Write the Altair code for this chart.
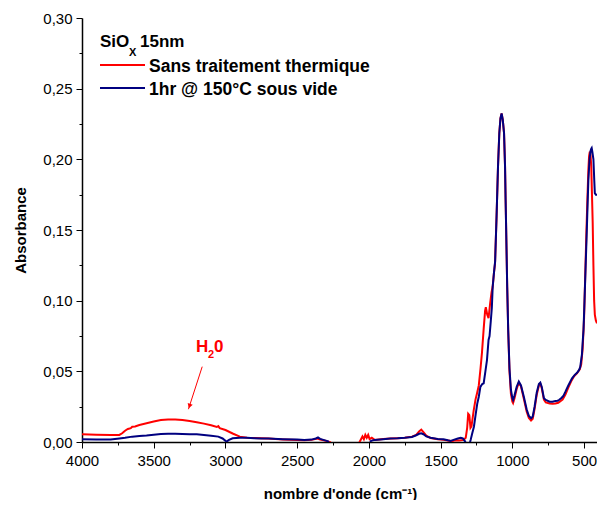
import altair as alt
import pandas as pd

# ---------------- data ----------------
series_names = ["Sans traitement thermique", "1hr @ 150°C sous vide"]
series_colors = ["#ff0000", "#000080"]

wn_red = [4000, 3900, 3800, 3740, 3720, 3700, 3680, 3660, 3650, 3630, 3600, 3550, 3500, 3450, 3400, 3350,
          3300, 3250, 3200, 3150, 3100, 3060, 3050, 3040, 3000, 2950, 2900, 2850, 2800, 2750,
          2700, 2600, 2500, 2450, 2400, 2360, 2340, 2300, 2270, 2250, 2200, 2100,
          2070, 2055, 2045, 2035, 2025, 2015, 2005, 1995, 1980, 1960, 1900, 1850,
          1800, 1750, 1700, 1670, 1650, 1635, 1620, 1600, 1570, 1520, 1480, 1450,
          1420, 1400, 1370, 1340, 1325, 1315, 1308, 1300, 1292, 1285, 1270, 1257,
          1245, 1234, 1222, 1212, 1200, 1190, 1185, 1175, 1166, 1155, 1145, 1137,
          1128, 1121, 1110, 1100, 1091, 1083, 1075, 1067, 1058, 1051, 1047, 1044,
          1036, 1029, 1020, 1010, 1000, 995, 985, 970, 955, 940, 920, 900, 885,
          870, 858, 845, 830, 815, 805, 795, 780, 767, 740, 720, 700, 680, 665,
          650, 630, 610, 590, 570, 550, 530, 520, 510, 500, 492, 484, 476, 470,
          465, 460, 455, 450, 445, 440, 435, 430, 425, 418, 410]
abs_red = [0.0055, 0.0052, 0.0050, 0.0050, 0.0062, 0.0080, 0.0092, 0.0098, 0.0108, 0.0110, 0.0120, 0.0132, 0.0145, 0.0155, 0.0160, 0.0160,
           0.0155, 0.0148, 0.0140, 0.0130, 0.0118, 0.0106, 0.0112, 0.0098, 0.0085, 0.0060, 0.0038, 0.0030, 0.0028, 0.0026,
           0.0024, 0.0018, 0.0014, 0.0012, 0.0015, 0.0025, 0.0018, 0.0008, 0.0000, -0.0030, -0.0040, -0.0040,
           -0.0010, 0.0020, 0.0040, 0.0020, 0.0050, 0.0030, 0.0050, 0.0020, 0.0030, 0.0015, 0.0022, 0.0025,
           0.0027, 0.0030, 0.0038, 0.0050, 0.0075, 0.0088, 0.0070, 0.0045, 0.0028, 0.0020, 0.0015, 0.0010,
           0.0005, 0.0012, 0.0010, 0.0015, 0.0030, 0.0100, 0.0200, 0.0190, 0.0100, 0.0110, 0.0220, 0.0300,
           0.0350, 0.0400, 0.0520, 0.0630, 0.0800, 0.0930, 0.0954, 0.0900, 0.0876, 0.0980, 0.1060, 0.1100,
           0.1200, 0.1260, 0.1600, 0.1950, 0.2185, 0.2290, 0.2325, 0.2280, 0.2185, 0.1950, 0.1710, 0.1550,
           0.1100, 0.0790, 0.0500, 0.0340, 0.0285, 0.0275, 0.0310, 0.0375, 0.0420, 0.0395, 0.0305, 0.0215, 0.0170,
           0.0152, 0.0165, 0.0235, 0.0335, 0.0400, 0.0412, 0.0380, 0.0300, 0.0280, 0.0272, 0.0270, 0.0272, 0.0278, 0.0288,
           0.0300, 0.0335, 0.0385, 0.0430, 0.0465, 0.0485, 0.0515, 0.0550, 0.0660, 0.0880, 0.1180, 0.1480, 0.1750, 0.1930,
           0.2025, 0.2055, 0.2030, 0.1950, 0.1750, 0.1550, 0.1250, 0.1000, 0.0900, 0.0860, 0.0840]

wn_blue = [4000, 3900, 3800, 3740, 3700, 3650, 3600, 3550, 3500, 3450, 3400, 3350,
           3300, 3250, 3200, 3150, 3100, 3050, 3020, 3000, 2990, 2975, 2950, 2900,
           2850, 2800, 2750, 2700, 2600, 2500, 2450, 2400, 2370, 2355, 2340, 2300,
           2285, 2270, 2200, 2100, 2000, 1985, 1960, 1900, 1850, 1800, 1750, 1700,
           1670, 1650, 1635, 1620, 1600, 1570, 1520, 1480, 1450, 1430, 1410, 1380,
           1360, 1345, 1330, 1315, 1300, 1291, 1280, 1268, 1255, 1245, 1234, 1223,
           1210, 1200, 1188, 1177, 1166, 1159, 1150, 1143, 1137, 1128, 1120, 1110,
           1100, 1091, 1083, 1075, 1067, 1058, 1051, 1047, 1044, 1036, 1029, 1020,
           1010, 1000, 995, 985, 970, 955, 940, 920, 900, 885, 869, 858, 845, 830,
           815, 805, 795, 780, 767, 740, 721, 700, 685, 675, 660, 645, 630, 610,
           584, 565, 549, 535, 527, 515, 509, 504, 497, 489, 481, 475, 470, 462,
           455, 450, 447, 442, 435, 429, 425, 418, 410]
abs_blue = [0.0020, 0.0018, 0.0017, 0.0025, 0.0030, 0.0038, 0.0042, 0.0046, 0.0052, 0.0056, 0.0058, 0.0058,
            0.0057, 0.0055, 0.0054, 0.0050, 0.0045, 0.0038, 0.0025, 0.0008, 0.0005, 0.0015, 0.0026, 0.0030,
            0.0030, 0.0027, 0.0025, 0.0024, 0.0020, 0.0017, 0.0015, 0.0017, 0.0025, 0.0032, 0.0022, 0.0010,
            0.0005, -0.0020, -0.0040, -0.0040, -0.0020, 0.0008, 0.0015, 0.0020, 0.0024, 0.0026, 0.0030, 0.0036,
            0.0048, 0.0058, 0.0062, 0.0055, 0.0040, 0.0030, 0.0022, 0.0020, 0.0012, 0.0008, 0.0015, 0.0025,
            0.0030, 0.0025, 0.0005, -0.0030, -0.0020, 0.0014, 0.0060, 0.0108, 0.0200, 0.0270, 0.0320, 0.0390,
            0.0410, 0.0415, 0.0500, 0.0580, 0.0722, 0.0750, 0.0860, 0.0950, 0.1100, 0.1200, 0.1280, 0.1600,
            0.1950, 0.2185, 0.2290, 0.2325, 0.2280, 0.2185, 0.1950, 0.1710, 0.1550, 0.1100, 0.0790, 0.0520,
            0.0370, 0.0310, 0.0297, 0.0330, 0.0390, 0.0428, 0.0400, 0.0320, 0.0230, 0.0185, 0.0168, 0.0180, 0.0250, 0.0350,
            0.0410, 0.0420, 0.0390, 0.0310, 0.0297, 0.0285, 0.0285, 0.0290, 0.0292, 0.0297, 0.0310, 0.0325, 0.0356, 0.0400,
            0.0450, 0.0475, 0.0490, 0.0510, 0.0530, 0.0620, 0.0720, 0.0793, 0.1000, 0.1250, 0.1500, 0.1700, 0.1855, 0.2000,
            0.2060, 0.2075, 0.2080, 0.2050, 0.2000, 0.1850, 0.1760, 0.1750, 0.1750]

y_major = [0.00, 0.05, 0.10, 0.15, 0.20, 0.25, 0.30]
y_minor = [0.025, 0.075, 0.125, 0.175, 0.225, 0.275]
x_major = [4000, 3500, 3000, 2500, 2000, 1500, 1000, 500]
x_minor = [3750, 3250, 2750, 2250, 1750, 1250, 750]

# annotation arrow (H2O), data coordinates: tail -> tip
arrow_wn = [3162, 3258]
arrow_abs = [0.0533, 0.0232]

# ---------------- chart ----------------
FONT = "Liberation Sans"

red_df = pd.DataFrame({"wn": wn_red, "a": abs_red, "serie": series_names[0]})
blue_df = pd.DataFrame({"wn": wn_blue, "a": abs_blue, "serie": series_names[1]})

xscale = alt.Scale(domain=[4000, 410], nice=False, zero=False)
yscale = alt.Scale(domain=[0, 0.30], nice=False, zero=False)

axis_common = dict(domainColor="black", tickColor="black", labelColor="black",
                   labelFont=FONT, labelFontSize=15, titleFont=FONT, titleFontSize=15,
                   titleFontWeight="bold", titleColor="black", grid=False, labelFlush=False)

x_axis_major = alt.Axis(values=x_major, orient="bottom", tickSize=6, domainWidth=1.5,
                        labelPadding=5, labelExpr="format(datum.value, 'd')",
                        title="nombre d'onde (cm⁻¹)", titleX=258, titleY=51,
                        titleAlign="center", titleBaseline="middle", **axis_common)
y_axis_major = alt.Axis(values=y_major, orient="left", tickSize=6, domainWidth=1.5,
                        labelPadding=4,
                        labelExpr="replace(format(datum.value, '.2f'), '.', ',')",
                        title="Absorbance", titleX=-62, titleY=212, titleAngle=-90,
                        titleAlign="center", titleBaseline="middle", **axis_common)
x_axis_minor = alt.Axis(values=x_minor, orient="bottom", tickSize=3, labels=False,
                        domain=False, title=None, grid=False, tickColor="black")
y_axis_minor = alt.Axis(values=y_minor, orient="left", tickSize=3, labels=False,
                        domain=False, title=None, grid=False, tickColor="black")

red_line = alt.Chart(red_df).mark_line(clip=True, strokeWidth=2, color=series_colors[0]).encode(
    x=alt.X("wn:Q", scale=xscale, axis=x_axis_major),
    y=alt.Y("a:Q", scale=yscale, axis=y_axis_major),
)
blue_line = alt.Chart(blue_df).mark_line(clip=True, strokeWidth=2, color=series_colors[1]).encode(
    x=alt.X("wn:Q", scale=xscale, axis=x_axis_minor),
    y=alt.Y("a:Q", scale=yscale, axis=y_axis_minor),
)

arrow_df = pd.DataFrame({"x1": [arrow_wn[0]], "y1": [arrow_abs[0]],
                         "x2": [arrow_wn[1]], "y2": [arrow_abs[1]]})
arrow = alt.Chart(arrow_df).mark_rule(color="#ff0000", strokeWidth=1).encode(
    x=alt.X("x1:Q", scale=xscale, axis=None), y=alt.Y("y1:Q", scale=yscale, axis=None),
    x2="x2:Q", y2="y2:Q")
head_df = pd.DataFrame({"x": [arrow_wn[1] - 9], "y": [arrow_abs[1] + 0.0027]})
head = alt.Chart(head_df).mark_point(shape="triangle", filled=True, size=28, angle=198,
                                     color="#ff0000", opacity=1).encode(
    x=alt.X("x:Q", scale=xscale, axis=None), y=alt.Y("y:Q", scale=yscale, axis=None))


def txt(text, x, y, size, color="black", weight="bold"):
    return alt.Chart(pd.DataFrame({"t": [text]})).mark_text(
        align="left", baseline="alphabetic", font=FONT, fontSize=size,
        fontWeight=weight, color=color).encode(
        text="t:N", x=alt.value(x), y=alt.value(y))


def swatch(color, x1, x2, y):
    return alt.Chart(pd.DataFrame({"c": [color]})).mark_rule(color=color, strokeWidth=2).encode(
        x=alt.value(x1), x2=alt.value(x2), y=alt.value(y))


legend_layers = [
    txt("SiO", 18, 29, 17),
    txt("X", 47, 38, 11),
    txt("15nm", 58, 29, 17),
    swatch(series_colors[0], 18, 63, 47),
    txt(series_names[0], 67, 54, 17.5),
    swatch(series_colors[1], 18, 63, 70),
    txt(series_names[1], 67, 77, 17.5),
]
h2o_layers = [
    txt("H", 114, 334, 17, color="#ff0000"),
    txt("2", 126, 340, 11, color="#ff0000"),
    txt("0", 132, 334, 17, color="#ff0000"),
]

chart = alt.layer(red_line, blue_line, arrow, head, *legend_layers, *h2o_layers).resolve_axis(
    x="independent", y="independent"
).properties(
    width=515, height=424,
    padding={"left": 74, "top": 10, "right": 0, "bottom": 58},
    autosize=alt.AutoSizeParams(type="none"),
    background="white",
).configure_view(stroke=None)

chart.save("out.html", embed_options={"renderer": "svg", "actions": False})
